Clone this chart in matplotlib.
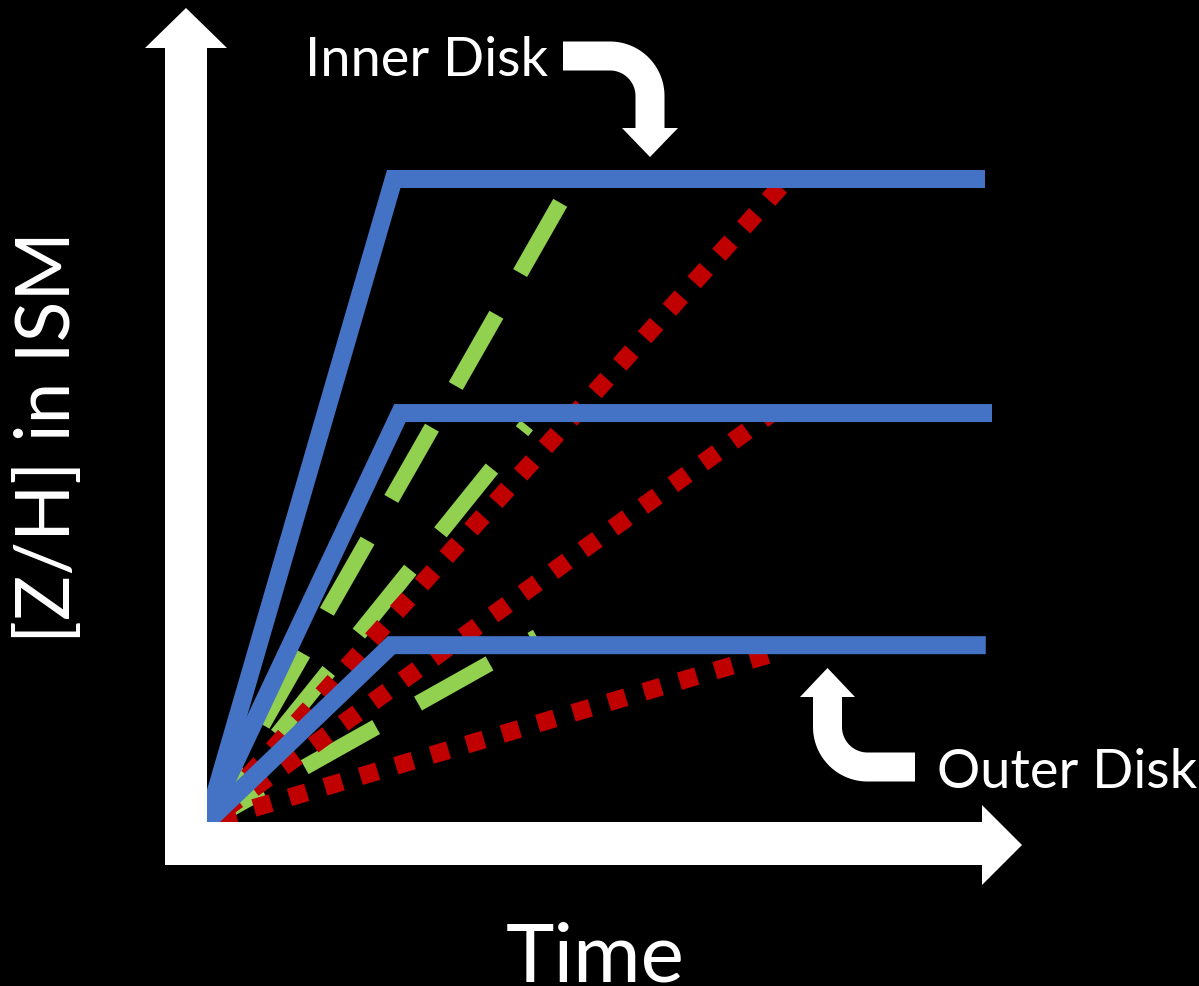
import numpy as np
import matplotlib
matplotlib.use("Agg")
import matplotlib.pyplot as plt
from matplotlib.patches import Polygon

W, H, DPI = 1199, 986, 100
PX = 72 / DPI  # points per pixel

# time (x) and [Z/H] (y), both on an arbitrary 0..1 scale
blue_x = [[0, 0.240, 1.000], [0, 0.248, 1.009], [0, 0.237, 1.001]]
blue_y = [[0, 1.000, 1.000], [0, 0.636, 0.636], [0, 0.275, 0.275]]
green_x = [[0, 0.454], [0, 0.411], [0, 0.424]]
green_y = [[0, 0.963], [0, 0.617], [0, 0.288]]
red_x = [[0, 0.737], [0, 0.726], [0, 0.724]]
red_y = [[0, 0.988], [0, 0.636], [0, 0.261]]
red_phase = [13, 17, 25]

BLUE, GREEN, RED = "#4472C4", "#92D050", "#C00000"
FONT = dict(family="Lato", weight="normal", color="white")

plt.rcParams["lines.scale_dashes"] = False

fig = plt.figure(figsize=(W / DPI, H / DPI), dpi=DPI, facecolor="black")

# data axes: origin of the sketch sits at pixel (207, 822)
ax = fig.add_axes([0, 0, 1, 1])
ax.set_facecolor("black")
ax.set_xlim(-207 / 778, (W - 207) / 778)
ax.set_ylim((822 - H) / 643, 822 / 643)
ax.axis("off")

for gx, gy in zip(green_x, green_y):
    ax.plot(gx, gy, color=GREEN, lw=16 * PX, dash_capstyle="butt",
            ls=(18 * PX, (82 * PX, 48 * PX)), zorder=1)
for rx, ry, ph in zip(red_x, red_y, red_phase):
    ax.plot(rx, ry, color=RED, lw=18 * PX, dash_capstyle="butt",
            ls=(ph * PX, (18 * PX, 19 * PX)), zorder=2)
for bx, by in zip(blue_x, blue_y):
    ax.plot(bx, by, color=BLUE, lw=18 * PX, solid_capstyle="butt",
            solid_joinstyle="miter", zorder=3)

# overlay in pixel units for the arrows and labels
deco = fig.add_axes([0, 0, 1, 1], zorder=3)
deco.set_xlim(0, W)
deco.set_ylim(H, 0)
deco.axis("off")
deco.patch.set_alpha(0)

deco.add_patch(Polygon([(165, 865), (165, 48), (145, 48), (186, 8), (227, 48),
                        (207, 48), (207, 865)], closed=True, fc="white", ec="none"))
deco.add_patch(Polygon([(165, 822), (982, 822), (982, 805), (1022, 845), (982, 885),
                        (982, 865), (165, 865)], closed=True, fc="white", ec="none"))

t = np.linspace(0, np.pi / 2, 30)
# inner disk bent arrow
xs = np.concatenate([[563], 610 + 40 * np.sin(t), [650]])
ys = np.concatenate([[56], 96 - 40 * np.cos(t), [130]])
deco.plot(xs, ys, color="white", lw=29 * PX, solid_capstyle="butt")
deco.add_patch(Polygon([(622, 128), (678, 128), (650, 157)], fc="white", ec="none"))
# outer disk bent arrow
xs = np.concatenate([[827.5], 867.5 - 40 * np.cos(t), [915]])
ys = np.concatenate([[695], 727 + 40 * np.sin(t), [767]])
deco.plot(xs, ys, color="white", lw=29 * PX, solid_capstyle="butt")
deco.add_patch(Polygon([(800, 697), (855, 697), (827.5, 668)], fc="white", ec="none"))

deco.text(305, 76, "Inner Disk", fontsize=39, ha="left", va="baseline", **FONT)
deco.text(937, 788, "Outer Disk", fontsize=39, ha="left", va="baseline", **FONT)
deco.text(595, 982, "Time", fontsize=59, ha="center", va="baseline", **FONT)
deco.text(70, 437, "[Z/H] in ISM", fontsize=54, rotation=90, rotation_mode="anchor",
          ha="center", va="baseline", **FONT)

fig.savefig("out.png", dpi=DPI, facecolor="black")
